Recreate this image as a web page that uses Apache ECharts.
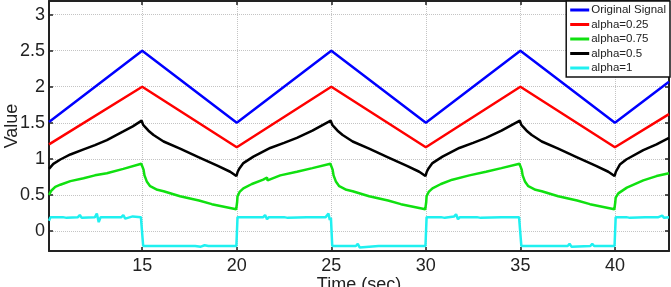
<!DOCTYPE html>
<html>
<head>
<meta charset="utf-8">
<script src="https://cdn.jsdelivr.net/npm/echarts@6/dist/echarts.min.js"></script>
<style>
  html, body { margin: 0; padding: 0; background: #fff; }
  #chart { width: 671px; height: 287px; }
</style>
</head>
<body>
<div id="chart"></div>
<script>
const seriesNames = ["Original Signal", "alpha=0.25", "alpha=0.75", "alpha=0.5", "alpha=1"];
const xTicks = [15, 20, 25, 30, 35, 40];
const yTicks = [0, 0.5, 1, 1.5, 2, 2.5, 3];

// [time, value] pairs
const original = [
  [10.07, 1.51], [15, 2.5], [20, 1.5], [25, 2.5], [30, 1.5], [35, 2.5], [40, 1.5], [42.86, 2.07]
];
const alpha025 = [
  [10.07, 1.2], [15, 2.0], [20, 1.16], [25, 2.0], [30, 1.16], [35, 2.0], [40, 1.16], [42.86, 1.62]
];
const alpha075 = [
  [10.07, 0.5], [10.2, 0.56], [10.4, 0.61], [10.67, 0.64], [11.2, 0.69], [11.9, 0.73], [12.5, 0.77],
  [13.13, 0.8], [14.0, 0.86], [14.95, 0.93],
  [15.07, 0.85], [15.12, 0.77], [15.25, 0.68], [15.42, 0.62], [15.8, 0.57], [16.13, 0.55], [17, 0.48],
  [18, 0.42], [18.68, 0.37], [19.97, 0.3],
  [20.02, 0.4], [20.04, 0.48], [20.15, 0.54], [20.35, 0.59], [20.8, 0.65], [21.4, 0.71], [21.6, 0.74],
  [21.63, 0.7], [22.3, 0.77], [23.18, 0.82], [24, 0.87], [24.95, 0.93],
  [25.07, 0.85], [25.12, 0.77], [25.25, 0.68], [25.42, 0.62], [25.8, 0.57], [26.13, 0.55], [27, 0.48],
  [28, 0.42], [28.68, 0.37], [29.97, 0.3],
  [30.02, 0.4], [30.04, 0.48], [30.15, 0.54], [30.35, 0.59], [30.8, 0.65], [31.4, 0.71], [32.3, 0.77],
  [33.18, 0.82], [34, 0.87], [34.95, 0.93],
  [35.07, 0.85], [35.12, 0.77], [35.25, 0.68], [35.42, 0.62], [35.8, 0.57], [36.13, 0.55], [37, 0.48],
  [38, 0.42], [38.68, 0.37], [39.97, 0.3],
  [40.02, 0.4], [40.04, 0.46], [40.18, 0.52], [40.63, 0.6], [41.5, 0.7], [42.2, 0.76], [42.86, 0.8]
];
const alpha05 = [
  [10.07, 0.86], [10.3, 0.93], [10.67, 0.99], [11.2, 1.06], [11.9, 1.13], [12.5, 1.19], [13.13, 1.26],
  [14.0, 1.38], [14.5, 1.45], [14.97, 1.53],
  [15.05, 1.47], [15.16, 1.44], [15.33, 1.39], [15.6, 1.33], [16.13, 1.24], [17, 1.14], [18, 1.02],
  [19, 0.9], [19.65, 0.82], [19.98, 0.76],
  [20.05, 0.82], [20.15, 0.87], [20.35, 0.94], [20.88, 1.03], [21.77, 1.15], [22.5, 1.22], [23.18, 1.29],
  [24, 1.39], [24.97, 1.53],
  [25.05, 1.47], [25.16, 1.44], [25.33, 1.39], [25.6, 1.33], [26.13, 1.24], [27, 1.14], [28, 1.02],
  [29, 0.9], [29.65, 0.82], [29.98, 0.76],
  [30.05, 0.82], [30.15, 0.87], [30.35, 0.94], [30.88, 1.03], [31.77, 1.15], [32.5, 1.22], [33.18, 1.29],
  [34, 1.39], [34.97, 1.53],
  [35.05, 1.47], [35.16, 1.44], [35.33, 1.39], [35.6, 1.33], [36.13, 1.24], [37, 1.14], [38, 1.02],
  [39, 0.9], [39.65, 0.82], [39.98, 0.76],
  [40.05, 0.82], [40.26, 0.92], [40.6, 0.99], [41.5, 1.12], [42.2, 1.2], [42.86, 1.29]
];
const alpha1 = [
  [10.07, 0.14], [10.15, 0.19], [10.8, 0.19], [10.9, 0.21], [11.0, 0.18], [11.6, 0.19], [11.7, 0.22],
  [11.8, 0.18], [12.5, 0.19], [12.6, 0.24], [12.7, 0.12], [12.8, 0.19], [13.9, 0.19], [14.0, 0.22],
  [14.1, 0.17], [14.5, 0.2], [14.93, 0.19], [14.97, 0.17], [15.05, -0.21],
  [16.0, -0.21], [16.1, -0.19], [16.2, -0.21], [17.8, -0.21], [17.9, -0.19], [18.1, -0.22], [18.3, -0.2],
  [18.5, -0.21], [19.98, -0.21], [20.04, 0.19],
  [21.4, 0.19], [21.5, 0.22], [21.6, 0.16], [21.7, 0.19], [22.5, 0.19], [22.6, 0.21], [22.7, 0.18],
  [23.7, 0.19], [23.8, 0.21], [24.7, 0.19], [24.85, 0.24], [24.92, 0.15], [24.98, 0.18], [25.05, -0.21],
  [26.3, -0.21], [26.4, -0.18], [26.5, -0.23], [26.6, -0.21], [27.5, -0.21], [27.6, -0.19], [27.7, -0.21],
  [29.0, -0.21], [29.1, -0.19], [29.2, -0.21], [29.98, -0.21], [30.04, 0.19],
  [30.8, 0.19], [30.9, 0.21], [31.0, 0.18], [31.5, 0.2], [31.6, 0.23], [31.7, 0.16], [31.8, 0.19],
  [32.7, 0.19], [32.8, 0.21], [32.9, 0.18], [34.0, 0.19], [34.1, 0.21], [34.93, 0.19], [35.05, -0.21],
  [36.2, -0.21], [36.3, -0.19], [36.4, -0.21], [37.5, -0.21], [37.6, -0.18], [37.7, -0.22],
  [38.7, -0.21], [38.8, -0.18], [38.9, -0.21], [39.98, -0.21], [40.04, 0.19],
  [40.6, 0.19], [40.7, 0.21], [40.8, 0.18], [41.6, 0.19], [41.7, 0.21], [42.3, 0.19], [42.5, 0.21],
  [42.6, 0.18], [42.86, 0.19]
];

const seriesData = [original, alpha025, alpha075, alpha05, alpha1];
const seriesColors = ["#0000ff", "#ff0000", "#10e010", "#000000", "#20f0f0"];

const fontFamily = '"Liberation Sans", Arial, sans-serif';
const xMin = 10.07, xMax = 42.86;
const yMin = -0.28, yMax = 3.19;

const chart = echarts.init(document.getElementById("chart"));

const gridLine = { show: true, lineStyle: { color: "#c4c4c4", type: "dotted", width: 1 } };
const frameLine = { show: true, onZero: false, lineStyle: { color: "#222", width: 2 } };

const option = {
  animation: false,
  backgroundColor: "#fff",
  grid: { left: 49, right: 2, top: 1, bottom: 36, containLabel: false, outerBoundsMode: "none" },
  legend: {
    data: seriesNames,
    orient: "vertical",
    right: 1,
    top: 1,
    padding: [3, 4, 3, 4],
    itemGap: 2.5,
    itemWidth: 19,
    itemHeight: 3,
    icon: "rect",
    backgroundColor: "#fff",
    borderColor: "#111",
    borderWidth: 1.5,
    borderRadius: 0,
    textStyle: { fontFamily, fontSize: 11.5, color: "#222", lineHeight: 12, padding: [0, 0, 0, -3] }
  },
  xAxis: [
    {
      type: "value",
      min: xMin,
      max: xMax,
      splitNumber: 7,
      name: "Time (sec)",
      nameLocation: "middle",
      nameGap: 25,
      nameMoveOverlap: false,
      nameTextStyle: { fontFamily, fontSize: 18, color: "#222" },
      axisLine: frameLine,
      axisTick: { show: true, inside: true, length: 4, customValues: xTicks, lineStyle: { color: "#222", width: 1.5 } },
      axisLabel: { customValues: xTicks, fontFamily, fontSize: 18, color: "#222", margin: 6 },
      splitLine: gridLine
    },
    {
      type: "value",
      position: "top",
      min: xMin,
      max: xMax,
      axisLine: frameLine,
      axisTick: { show: true, inside: true, length: 4, customValues: xTicks, lineStyle: { color: "#222", width: 1.5 } },
      axisLabel: { show: false },
      splitLine: { show: false }
    }
  ],
  yAxis: [
    {
      type: "value",
      min: yMin,
      max: yMax,
      splitNumber: 7,
      name: "Value",
      nameLocation: "middle",
      nameGap: 28,
      nameMoveOverlap: false,
      nameTextStyle: { fontFamily, fontSize: 18, color: "#222" },
      axisLine: frameLine,
      axisTick: { show: true, inside: true, length: 4, customValues: yTicks, lineStyle: { color: "#222", width: 1.5 } },
      axisLabel: { customValues: yTicks, fontFamily, fontSize: 18, color: "#222", margin: 4 },
      splitLine: gridLine
    },
    {
      type: "value",
      position: "right",
      min: yMin,
      max: yMax,
      axisLine: frameLine,
      axisTick: { show: true, inside: true, length: 4, customValues: yTicks, lineStyle: { color: "#222", width: 1.5 } },
      axisLabel: { show: false },
      splitLine: { show: false }
    }
  ],
  series: seriesNames.map((name, i) => ({
    name,
    type: "line",
    xAxisIndex: 0,
    yAxisIndex: 0,
    data: seriesData[i],
    showSymbol: false,
    symbol: "none",
    lineStyle: { color: seriesColors[i], width: 2.5 },
    itemStyle: { color: seriesColors[i] }
  }))
};

chart.setOption(option);
</script>
</body>
</html>
